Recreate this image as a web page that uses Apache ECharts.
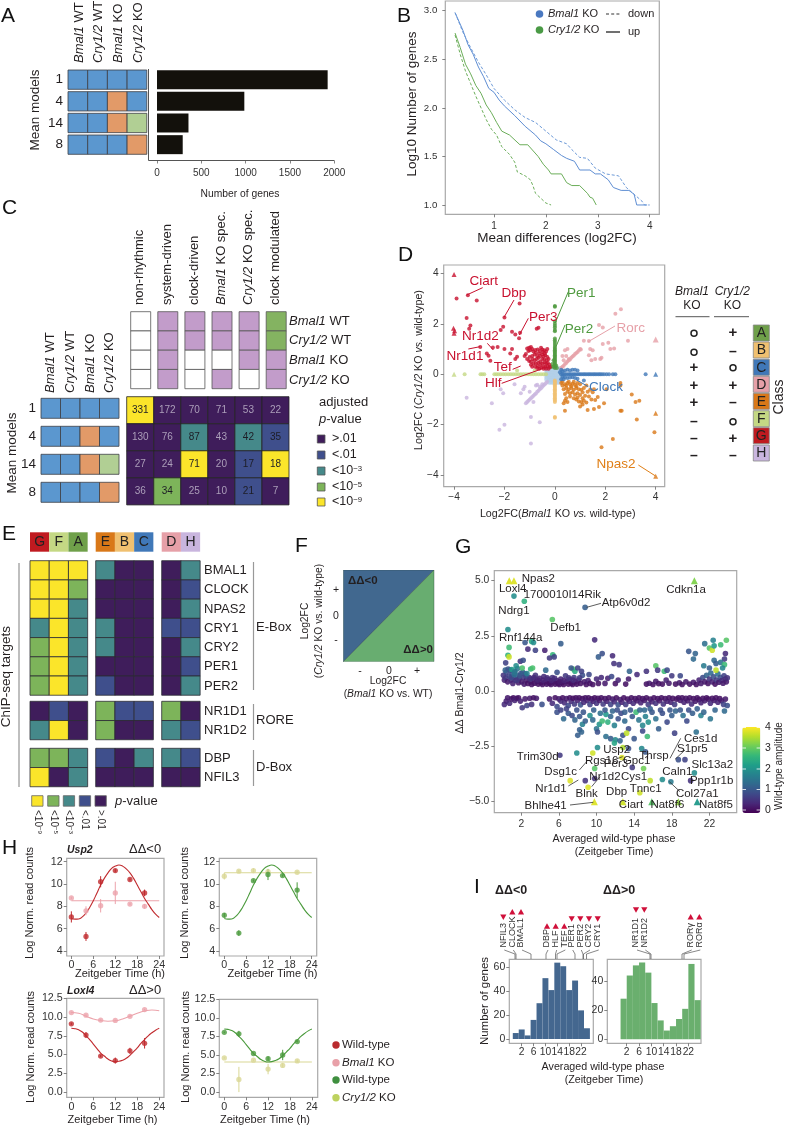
<!DOCTYPE html>
<html><head><meta charset="utf-8">
<script src="https://cdn.jsdelivr.net/npm/echarts@6/dist/echarts.min.js"></script>
<style>html,body{margin:0;padding:0;background:#fff}#c{width:789px;height:1127px}</style></head>
<body><div id="c"></div>
<script>
// ---------- DATA ----------
const modelRows=['1','4','14','8'];
const genotypeHead=['{i|Bmal1} WT','{i|Cry1/2} WT','{i|Bmal1} KO','{i|Cry1/2} KO'];
const modelCells=[[0,0,0,0],[0,0,1,0],[0,0,1,2],[0,0,0,1]];
const modelGeneCounts=[1925,985,355,290];
const bMeanDiff=[.25,.4,.5,.6,.7,.8,.9,1,1.1,1.2,1.4,1.6,1.8,1.9,2,2.15,2.3,2.4,2.55,2.65,2.85,2.95,3.05,3.2,3.3,3.45,3.6,3.7,3.75,3.95];
const bBmalUp=[2.98,2.8,2.65,2.55,2.42,2.32,2.2,2.16,2.08,2.02,1.92,1.81,1.72,1.66,1.63,1.57,1.51,1.48,1.45,1.36,1.36,1.32,1.32,1.26,1.18,1.15,1.15,1.11,1,1];
const bBmalDown=[[.25,2.98],[.4,2.78],[.55,2.62],[.7,2.47],[.85,2.34],[1,2.2],[1.2,2.08],[1.4,1.98],[1.6,1.9],[1.8,1.85],[2,1.76],[2.2,1.67],[2.4,1.63],[2.5,1.57],[2.65,1.49],[2.8,1.48],[2.95,1.38],[3.15,1.32],[3.4,1.3],[3.55,1.18],[3.7,1.11],[3.85,1.04],[3.9,1],[4,1]];
const bCryUp=[[.25,2.77],[.35,2.62],[.45,2.45],[.55,2.35],[.65,2.23],[.75,2.15],[.85,2.03],[.95,1.95],[1.05,1.85],[1.15,1.76],[1.3,1.72],[1.5,1.62],[1.65,1.62],[1.85,1.5],[1.95,1.42],[2.05,1.36],[2.1,1.32],[2.3,1.32],[2.4,1.23],[2.5,1.2],[2.65,1.2],[2.8,1.12],[2.85,1.08],[2.9,1.07],[2.97,1]];
const bCryDown=[[.25,2.75],[.35,2.55],[.45,2.38],[.55,2.25],[.65,2.12],[.75,2],[.85,1.88],[.95,1.78],[1.05,1.72],[1.15,1.6],[1.3,1.52],[1.4,1.44],[1.45,1.34],[1.6,1.3],[1.7,1.26],[1.75,1.2],[1.8,1.12],[1.9,1.07],[2,1.02],[2.1,1]];
const cClassHead=['non-rhythmic','system-driven','clock-driven','{i|Bmal1} KO spec.','{i|Cry1/2} KO spec.','clock modulated'];
const cClassCells=[[0,1,1,1,1,2],[0,1,1,1,1,2],[0,1,0,0,1,1],[0,1,0,1,0,1]];
const cCounts=[[331,172,70,71,53,22],[130,76,87,43,42,35],[27,24,71,20,17,18],[36,34,25,10,21,7]];
const cSignif=[[4,0,0,0,0,0],[0,0,2,0,2,1],[0,0,4,0,1,4],[0,3,0,0,1,0]];
const pLegendC=['>.01','<.01','<10{sup|−3}','<10{sup|−5}','<10{sup|−9}'];
const dNone=[[-.3,.2],[-.2,.2],[-.1,.2],[0,.2],[.1,.2],[.2,.2],[-.3,.1],[-.2,.1],[-.1,.1],[0,.1],[.1,.1],[.2,.1],[.3,.1],[-.3,0],[-.2,0],[-.1,0],[0,0],[.1,0],[.2,0],[.3,0],[-.3,-.1],[-.2,-.1],[-.1,-.1],[0,-.1],[.1,-.1],[.2,-.1],[.3,-.1],[-.3,-.2],[-.2,-.2],[-.1,-.2],[0,-.2],[.1,-.2],[.2,-.2],[-.2,-.3],[-.1,-.3],[0,-.3],[.1,-.3],[.2,-.3]];
const dG=[[-3.9,3],[-3.45,3.13],[-3.1,2.92],[-3.5,2.23],[-3.35,1.93],[-3.4,1.8],[-2,2.25],[-1.4,2.8],[-2.05,1.88],[-2.15,1.75],[-1.7,1.68],[-1.57,1.57],[-1.38,1.64],[-1.42,1.43],[-.72,1.8],[-.65,1.84],[-2.96,1.08],[-2.7,.82],[-2.63,.73],[-2.56,.53],[-2.46,1.06],[-2.27,1.08],[-2,1],[-1.7,1],[-1.77,.82],[-1.5,.69],[-1.57,.6],[-1.1,1.02],[-1.02,1.05],[-.95,1.08],[-.9,1],[-1.05,.92],[-.98,.95],[-.85,.9],[-.55,1.05],[-.5,.98],[-.42,.95],[-.35,.9],[-.3,1],[-.62,.82],[-.75,.85],[-.8,.78],[-.7,.72],[-.9,.72],[-1,.68],[-1.1,.6],[-1.02,.52],[-.95,.5],[-.88,.6],[-.8,.55],[-.72,.6],[-.65,.65],[-.58,.72],[-.5,.78],[-.45,.7],[-.38,.75],[-.3,.68],[-.25,.6],[-.33,.55],[-.42,.58],[-.5,.6],[-.58,.5],[-.66,.45],[-.75,.42],[-.85,.42],[-.95,.38],[-.9,.3],[-.78,.3],[-.68,.33],[-.58,.38],[-.5,.42],[-.42,.45],[-.35,.42],[-.28,.45],[-.22,.38],[-.3,.33],[-.38,.3],[-.46,.3],[-.55,.27],[-.62,.22],[-.7,.25],[-.2,.28],[-.25,.22],[-.35,.22],[-.45,.22],[-1.15,.8],[-1.2,.72],[-.6,.92],[-.68,.98],[-.78,.96],[-.48,.88],[-.4,.82]];
const dGTri=[[-4,3.95],[-4.02,1.82],[-3.98,1.72],[-4,1.62]];
const dA=[[0,2.7],[0,2.67],[0,2.1],[0,2],[0,1.92],[0,1.85],[0,1.75],[0,1.7],[0,1.42],[0,1.35],[0,1.28],[0,1.2],[0,1.12],[0,1.05],[0,1],[0,.95],[0,.9],[0,.85],[0,.8],[0,.75],[0,.7],[0,.65],[0,.6],[0,.55],[0,.5],[0,.45],[0,.4],[0,.35],[0,.3],[0,.25],[-.05,.55],[-.1,.4],[-.15,.3],[.08,.25],[-.08,.3],[.05,.35]];
const dD=[[.25,.25],[.3,.3],[.35,.34],[.4,.4],[.45,.44],[.5,.5],[.55,.55],[.6,.58],[.65,.65],[.7,.7],[.75,.74],[.8,.8],[.85,.84],[.9,.88],[.95,.94],[1,1],[1.03,.98],[2.62,2.58],[2.4,2.4],[1.75,1.95],[1.9,1.85],[1.15,1.33],[1.35,1.32],[1.9,1.2],[2.12,1.25],[2.9,1.33],[.4,.95],[.5,1],[.35,.55],[.55,.6],[1.4,1],[1.5,.95],[1.35,.75],[1.6,.6],[1.8,.6],[1.85,.65],[2.2,1],[2.35,1.02],[1.45,.55],[.3,.72],[.45,.72]];
const dDTri=[[4,1.38]];
const dC=[[.25,0],[.32,0],[.4,0],[.47,0],[.54,0],[.6,0],[.67,0],[.74,0],[.8,0],[.87,0],[.94,0],[1,0],[1.07,0],[1.14,0],[1.2,0],[1.27,0],[1.34,0],[1.4,0],[1.47,0],[1.54,0],[1.6,0],[1.67,0],[1.74,0],[1.8,0],[1.87,0],[1.95,0],[2.05,0],[2.15,0],[2.3,0],[2.4,0],[3.6,0],[.25,.18],[.3,.12],[.4,.15],[.5,.18],[.6,.15],[.7,.18],[.8,.18],[.9,.15],[.3,-.1],[.4,-.12],[.5,-.15],[.6,-.13],[.25,-.2],[.35,-.2],[.7,-.12],[.8,-.15],[1.15,-.25],[.9,-.18],[.2,.08]];
const dCTri=[[4,0]];
const dE=[[.25,-.35],[.3,-.45],[.4,-.4],[.5,-.35],[.6,-.4],[.7,-.38],[.8,-.42],[.9,-.35],[1,-.4],[.35,-.6],[.45,-.55],[.55,-.6],[.65,-.55],[.75,-.62],[.85,-.55],[.95,-.6],[1.05,-.62],[1.15,-.55],[.6,-.75],[.7,-.72],[.8,-.8],[.9,-.75],[1,-.82],[1.1,-.72],[1.2,-.85],[1.3,-.7],[1.4,-.62],[.4,-1.05],[.35,-1.15],[.45,-.95],[.85,-1],[.95,-1.08],[1.05,-1.1],[1.1,-1.2],[1.15,-1.05],[1.25,-1.12],[.4,-1.45],[1.3,-1.42],[1.55,-1.38],[1.75,-1.3],[1.95,-1.15],[2.05,-.6],[2.6,-.35],[3.05,-.8],[3.2,-1.1],[3.35,-1.05],[2.6,-1.45],[2.65,-1.45],[3.25,-1.8],[3.95,-2.3],[2.3,-2.57],[1.85,-2.9],[1.55,-.6],[1.7,-.9],[1.45,-1],[.3,-.3],[.55,-.3],[.75,-.3],[.45,-.45],[.65,-.48],[.85,-.48],[.5,-.7],[.4,-.78],[.6,-.88],[.75,-.95],[.9,-.92],[1.25,-.45],[1.1,-.95],[1.35,-.88],[.5,-1.1],[1,-1.28],[1.5,-.72],[1.6,-1.02],[2.6,-.45]];
const dETri=[[4,-1.55],[4,-4.05]];
const dB=[[0,-.25],[0,-.3],[0,-.35],[0,-.4],[0,-.45],[0,-.5],[0,-.55],[0,-.6],[0,-.65],[0,-.7],[0,-.75],[0,-.8],[0,-.85],[0,-.9],[0,-.95],[0,-1],[0,-1.05],[0,-1.1],[0,-1.7],[0,-1.73]];
const dF=[[-3.58,0],[-2.95,0],[-2.88,0],[-2.8,0],[-2.4,0],[-2.32,0],[-2.24,0],[-2.15,0],[-2.05,0],[-1.95,0],[-1.85,0],[-1.75,0],[-1.65,0],[-1.55,0],[-1.45,0],[-1.35,0],[-1.25,0],[-1.15,0],[-1.05,0],[-.95,0],[-.85,0],[-.75,0],[-.65,0],[-.55,0],[-.45,0],[-.35,0],[-1.5,.15],[-.8,.15]];
const dFTri=[[-4,0]];
const dH=[[-.3,-.3],[-.35,-.35],[-.4,-.4],[-.45,-.45],[-.5,-.5],[-.55,-.56],[-.6,-.6],[-.65,-.66],[-.7,-.7],[-.75,-.76],[-.8,-.8],[-.85,-.85],[-.9,-.9],[-.95,-.95],[-1,-1],[-1.05,-1.05],[-1.1,-1.1],[-1.15,-1.15],[-3.5,-.93],[-2.5,-1.15],[-2.15,-.6],[-2.05,-.75],[-2.2,-2.2],[-2,-2],[-.95,-2.75],[-.95,-1.7],[-.6,-1.9],[-1.6,-.4],[-1.35,-.75],[-1.25,-.6],[-1.2,-.5],[-.75,-.45],[-.7,-.42],[-.6,-.5],[-.5,-.4],[-.85,-1.1],[-1,-.7]];
const classLetters=['A','B','C','D','E','F','G','H'];
const classBmal=['o','o','+','+','+','–','–','–'];
const classCry=['+','–','o','+','–','o','+','–'];
const eTargets=['BMAL1','CLOCK','NPAS2','CRY1','CRY2','PER1','PER2'];
const eEbox1=[[4,4,4],[4,4,3],[4,4,2],[2,4,2],[3,4,2],[3,4,2],[3,4,2]];
const eEbox2=[[2,0,0],[0,0,0],[0,0,0],[2,0,0],[2,0,0],[0,0,0],[1,0,0]];
const eEbox3=[[0,2],[0,1],[0,2],[1,1],[0,2],[0,1],[0,2]];
const eRore=['NR1D1','NR1D2'];
const eRore1=[[0,1,0],[2,4,0]];const eRore2=[[3,1,1],[3,0,0]];const eRore3=[[3,0],[2,1]];
const eDbox=['DBP','NFIL3'];
const eDbox1=[[3,3,2],[4,0,2]];const eDbox2=[[1,0,2],[0,0,0]];const eDbox3=[[2,1],[0,0]];
const fBlueTri=[[-1,-1],[-1,1],[1,1]];const fGreenTri=[[-1,-1],[1,-1],[1,1]];
// phase, delta, amplitude
const gUpBand=[[.1,.72,.6],[.2,.5,.4],[.35,.6,.7],[.4,.85,.9],[.55,.42,.3],[.7,.68,.8],[.8,.95,1.1],[.9,.5,.5],[1,.78,1],[1.1,.35,.4],[1.2,.62,.7],[1.3,.9,1.2],[1.4,.48,.6],[1.5,.72,1.4],[1.6,1.02,1.6],[1.7,.38,.3],[1.8,.58,.5],[1.95,.8,1],[2.05,.42,.3],[2.2,.62,.6],[2.3,.32,.3],[2.4,.78,.9],[2.55,.5,.3],[2.7,.35,.2],[2.85,.62,.5],[3,.42,.3],[3.1,.3,.2],[3.25,.55,.4],[3.4,.36,.2],[3.5,.72,.6],[3.65,.44,.3],[3.8,.32,.2],[3.95,.58,.4],[4.1,.38,.2],[4.25,.3,.2],[4.4,.66,.5],[4.55,.42,.3],[4.7,.32,.2],[4.85,.52,.4],[5,.36,.2],[5.15,.3,.2],[5.3,.62,.6],[5.45,.42,.3],[5.6,.32,.2],[5.75,.48,.3],[5.9,.35,.2],[6.05,.3,.2],[6.2,.55,.4],[6.35,.38,.2],[6.5,.3,.2],[6.7,.7,.7],[6.85,.45,.3],[7,.32,.2],[7.15,.52,.5],[7.3,.36,.2],[7.45,.3,.2],[7.6,.62,.7],[7.75,.42,.3],[7.9,.32,.2],[8.1,.5,.4],[8.3,.35,.2],[8.5,.72,1],[8.7,.42,.3],[8.9,.3,.2],[9.1,.48,.4],[9.3,.35,.2],[9.6,.3,.2],[10,.55,.5],[10.2,.35,.2],[10.5,.62,.5],[10.9,.35,.3],[11.2,.58,.4],[11.6,.66,.9],[12,.34,.2],[12.3,.5,.4],[13.1,.32,.2],[13.4,.55,.3],[15.3,.32,.2],[15.6,.36,.3],[16,.3,.2],[16.3,.45,.3],[16.6,.34,.2],[17,.32,.2],[17.4,.5,.4],[17.7,.36,.3],[18,.7,.7],[18.4,.32,.2],[18.8,.38,.3],[19.1,.3,.2],[19.5,.42,.3],[19.9,.32,.2],[20.3,.4,.3],[20.6,.3,.2],[20.9,.5,.4],[21.1,.35,.3],[21.3,.62,.9],[21.5,.42,.3],[21.7,.72,1.3],[21.85,.35,.2],[22,.55,.6],[22.15,.82,1.4],[22.3,.42,.4],[22.45,.65,1],[22.6,.32,.2],[22.75,.5,.7],[22.9,.78,1.5],[23,.4,.3],[23.15,.62,1],[23.3,.48,.5],[23.45,.36,.3],[23.55,.7,.8],[23.7,.55,.5],[23.8,.42,.3],[23.9,.6,.6],[.3,.95,1.3],[.6,1,1.1],[.95,.62,.9],[1.25,.75,1.5],[1.55,.5,.7],[1.85,.7,1.1],[2.15,.85,1.2],[2.5,.68,.9],[2.95,.55,.6],[3.35,.62,.5],[3.75,.5,.4],[4.3,.5,.4],[4.75,.6,.5],[5.2,.48,.4],[5.55,.58,.5],[6.1,.42,.3],[6.55,.48,.4],[7.05,.6,.6],[7.5,.5,.5],[8.2,.6,.7]];
const gUpOut=[[.34,1.28,.8],[.58,1.62,2.6],[.7,1.55,3.8],[.7,1.98,2.8],[.58,2.79,2],[1.22,4.3,2],[2.32,4.07,2.6],[8.78,3.79,1.2],[5.3,3.24,3],[9.8,2.32,.5],[3.1,2.25,2.5],[3.3,2.2,2],[2.4,2.2,1.1],[2.7,1.9,.5],[3.5,1.85,.8],[4.5,1.85,.4],[6.2,2.15,1.2],[5.35,1.65,2.7],[5,1.5,.7],[5.5,1.55,.8],[1.9,1.35,.6],[2.2,1.4,1],[1.45,1.15,2],[3,1,2.7],[3.2,1.05,2.9],[4.6,.95,1.4],[5.8,.85,1],[7.5,1,3],[7.7,.9,2.5],[7.3,1.05,1.1],[8,1.05,.8],[8.4,.9,.8],[9.2,.75,.9],[10.2,1.55,1.2],[10.6,1.7,1],[11.7,1.6,.5],[11.85,1.25,.6],[12.4,1.2,.7],[13.5,.9,1.3],[14.3,.75,.5],[15.3,.9,.6],[16.3,1.15,3],[16.5,.95,.7],[17.2,.9,2.8],[17.5,.95,.9],[18.9,.7,.9],[19.8,1.8,1.1],[20.5,1.7,1.3],[20.3,1.45,1.4],[21.4,1.15,1.7],[21.5,2.15,1.5],[22,1.95,3],[22.3,1.85,3.8],[22.4,2.3,1.8],[22.5,2.05,2.2],[23.2,2.1,2.8],[23.8,2.3,3],[23.7,1.7,.5],[23.6,1.45,.7],[22.5,1.4,1.4],[22.7,1.25,1.2],[23.2,1.3,1.5],[23.6,1.2,2.8],[23.4,1.05,1.9],[22.7,.95,3.7],[22,1.05,1.2],[1,.98,2.2],[1.3,.85,1.6],[2.1,1.05,2.9],[2.6,.8,1.8]];
const gLowBand=[[.2,-.6,.5],[.4,-.45,.4],[.55,-.3,.3],[.75,-.55,.5],[.95,-.35,.3],[1.15,-.3,.2],[1.3,-.42,.4],[1.5,-.32,.3],[1.7,-.3,.2],[1.9,-.45,.4],[2.1,-.75,.7],[2.4,-.35,.3],[2.6,-.65,.8],[2.9,-.32,.3],[3.1,-.6,.6],[3.3,-.3,.2],[3.6,-.32,.3],[4.2,-.6,1],[5,-.35,.3],[5.3,-.55,.5],[5.6,-.3,.2],[5.8,-.7,.9],[6,-.35,.3],[6.2,-.45,.5],[6.4,-.3,.2],[6.6,-.52,.5],[6.8,-.34,.3],[7,-.65,.9],[7.15,-.3,.2],[7.3,-.46,.5],[7.5,-.32,.2],[7.65,-.58,.7],[7.8,-.3,.2],[8,-.42,.4],[8.15,-.3,.2],[8.3,-.62,1],[8.5,-.34,.2],[8.65,-.5,.5],[8.8,-.3,.2],[9,-.42,.4],[9.15,-.3,.2],[9.3,-.6,.8],[9.5,-.35,.2],[9.65,-.46,.4],[9.8,-.3,.2],[10,-.55,.6],[10.15,-.32,.2],[10.3,-.42,.3],[10.5,-.3,.2],[10.7,-.58,.7],[10.9,-.34,.2],[11.1,-.46,.4],[11.3,-.3,.2],[11.5,-.6,.8],[11.7,-.36,.3],[11.9,-.48,.5],[12.1,-.3,.2],[12.3,-.62,1],[12.5,-.38,.3],[12.7,-.5,.4],[12.9,-.3,.2],[13.1,-.6,.7],[13.3,-.36,.2],[13.5,-.46,.4],[13.7,-.3,.2],[13.9,-.55,.5],[14.1,-.34,.2],[14.3,-.44,.3],[14.5,-.3,.2],[14.7,-.52,.4],[14.9,-.34,.2],[15.1,-.42,.3],[15.3,-.3,.2],[15.5,-.6,.7],[15.7,-.36,.2],[15.9,-.48,.4],[16.1,-.3,.2],[16.3,-.55,.6],[16.5,-.34,.2],[16.7,-.44,.3],[16.9,-.3,.2],[17.1,-.58,.6],[17.3,-.34,.2],[17.5,-.46,.4],[17.7,-.3,.2],[17.9,-.5,.4],[18.1,-.32,.2],[18.3,-.6,.7],[18.5,-.36,.2],[18.7,-.3,.2],[18.9,-.42,.3],[19.1,-.3,.2],[19.3,-.5,.4],[19.5,-.32,.2],[19.7,-.44,.3],[19.9,-.3,.2],[20.1,-.58,.5],[20.3,-.34,.2],[20.5,-.46,.3],[20.7,-.3,.2],[20.9,-.38,.2],[21.1,-.52,.4],[21.3,-.32,.2],[21.5,-.44,.3],[21.7,-.3,.2],[21.9,-.36,.2],[22.1,-.55,.5],[22.3,-.32,.2],[22.5,-.42,.3],[22.7,-.3,.2],[22.9,-.5,.4],[23.1,-.34,.2],[23.3,-.44,.3],[23.5,-.6,.8],[23.7,-.36,.3],[23.9,-.65,1]];
const gLowOut=[[5.8,-.95,1],[6.2,-.85,.8],[6.5,-1.25,1.4],[7,-1,1.1],[7.4,-1.1,.9],[7.7,-1.3,1.3],[8.2,-1.15,1.1],[8.5,-1.5,1.8],[8.8,-1.35,1.2],[9.3,-1.1,2],[9.6,-1.3,1.4],[10,-1.7,1.6],[10.3,-1.5,2.1],[10.6,-1.35,2.8],[11,-1.05,2.2],[11.2,-1.4,2.6],[11.5,-1.15,1.3],[11.9,-1.55,1.8],[12.3,-1.25,1],[12.6,-1,.9],[13,-1.35,1.4],[13.4,-1.7,.9],[13.8,-1.15,1.1],[14.2,-.95,2.8],[14.5,-1.3,1.6],[14.9,-1.55,1.9],[15.2,-1.15,1.8],[15.5,-1.4,2.1],[15.9,-.95,1.1],[16.3,-1.25,1.5],[16.6,-1.7,1.2],[17,-1,1],[17.5,-1.4,.9],[18,-1.1,1.2],[18.4,-.9,1.3],[19.2,-1.1,1.5],[19.6,-1.35,.9],[20.2,-1,1.2],[21.1,-1.1,1.8],[21.4,-.95,1.3],[22.1,-1.25,1.6],[8.2,-1.75,1.2],[8.4,-1.85,1.3],[8,-2,1.2],[10.1,-1.85,1],[11,-2.05,1.5],[11.5,-2.15,1.2],[12,-2.2,1.9],[12.5,-2.25,1.3],[12.8,-2,1],[13.2,-1.9,3.7],[14,-2.15,1.1],[14.9,-1.8,.9],[15.4,-2.05,2.8],[18.3,-1.9,.8],[20.6,-1.85,1.5],[11.9,-2.35,2.4],[12.8,-2.55,3.6],[13.4,-2.6,1],[14.8,-2.6,1.9],[7.9,-2.8,2],[9.6,-2.8,3.8],[10.1,-2.55,2],[6.1,-2.9,.7],[12.7,-3,3.9],[15.2,-2.75,1.1],[18.7,-3.1,1],[19.4,-3.1,.8],[9.8,-3.5,3],[15,-3.5,3.2],[20.4,-3.7,2],[13.8,-3.45,.7],[8.8,-4.05,.6],[7.2,-4.05,3.9],[9.1,-4.35,3.9],[15.7,-4.05,3.7],[17,-4,2],[17.9,-4.1,1.7],[20,-4.05,.6],[14.6,-4.6,3.8],[9.8,-3.95,.6],[6.8,-.8,.8],[7.9,-.85,1],[8.6,-.95,1.1],[9.7,-.85,1.2],[10.4,-1,1.5],[10.9,-.85,1.1],[11.7,-.9,1.3],[12.2,-.85,1],[13,-.95,1.2],[13.6,-.85,1.1],[14.6,-.85,1.3],[15.1,-.85,1.4],[15.7,-.8,1.2],[16.8,-.85,1],[17.8,-.85,1.1],[18.9,-.85,1.1],[19.8,-.85,1],[20.7,-.8,1.2],[22.6,-.85,1.3],[23.6,-.9,1.4]];
const gTriangles=[[.72,5,3.9],[1.22,5,3.9],[20.4,5,3.3],[9.77,-5,3.9],[12.8,-5,3.8],[15.87,-5,3],[18.7,-5,3.4],[20.7,-5,2.2]];
const gTickValues=[2,6,10,14,18,22];
const hFitA=[[0,6.9],[1,6.85],[2,6.87],[3,7.05],[4,7.4],[5,7.9],[6,8.5],[7,9.2],[8,9.9],[9,10.5],[10,11],[11,11.4],[12,11.6],[13,11.7],[14,11.6],[15,11.35],[16,11],[17,10.5],[18,9.9],[19,9.3],[20,8.7],[21,8.2],[22,7.7],[23,7.3],[24,7]];
const hUsp2Wt=[[0,7.05,.5],[4,5.3,.4],[8,10.2,.5],[12,11.2,.15],[16,10.4,.1],[20,9.2,.3]];
const hUsp2Bko=[[0,8.75,.1],[4,7.6,.4],[8,8.05,.6],[12,9.2,1],[16,8.2,.1],[20,8,.2]];
const hUsp2Flat=[[0,8.5],[24,8.5]];
const hUsp2Wt2=[[0,7.2,.2],[4,5.6,.25],[8,10.3,.1],[12,10.85,.5],[16,10.75,.1],[20,9.45,.7]];
const hUsp2Cko=[[0,10.7,.3],[4,11.15,.1],[8,11.2,.2],[12,11.1,.2],[20,11.05,.1]];
const hUsp2CFlat=[[0,11],[24,11]];
const hFitL=[[0,8.5],[1,8.45],[2,8.3],[3,8],[4,7.5],[5,7],[6,6.4],[7,5.8],[8,5.2],[9,4.8],[10,4.4],[11,4.15],[12,4.05],[13,4.1],[14,4.25],[15,4.5],[16,4.9],[17,5.4],[18,5.9],[19,6.5],[20,7],[21,7.5],[22,7.9],[23,8.25],[24,8.5]];
const hFitLB=[[0,10.6],[2,10.5],[4,10.1],[6,9.75],[8,9.55],[10,9.45],[12,9.5],[14,9.75],[16,10.1],[18,10.5],[20,10.8],[22,10.95],[24,10.85]];
const hLoxWt=[[0,9.1,.15],[4,7.6,.4],[8,4.8,.15],[12,4.2,.4],[16,5.5,.4],[20,6.5,.7]];
const hLoxBko=[[0,10.6,.1],[4,10.25,.1],[8,9.6,.1],[12,9.55,.1],[16,10.1,.1],[20,11,.1]];
const hLoxWt2=[[0,8.05,.1],[4,7.85,.4],[8,5.2,.1],[12,4.5,.3],[16,5,.7],[20,6.8,.1]];
const hLoxCko=[[0,4.6,.1],[4,1.7,1.7],[8,4.3,.1],[12,3.1,.7],[16,3.6,.3],[20,4.2,.2]];
const hLoxFlat=[[0,4.05],[24,4.05]];
const iNegBins=[[0,5],[2,8],[4,3],[6,16],[8,30],[10,51],[12,41],[14,64],[16,61],[18,41],[20,49],[22,24],[24,9]];
const iPosBins=[[1,28],[3,44],[5,51],[7,53],[9,46],[11,25],[13,13],[15,6],[17,9],[19,14],[21,21],[23,52],[25,27]];
const iNegGenes=['NFIL3','CLOCK','BMAL1','DBP','HLF','TEF','PER1','PER2','CRY2','CRY1'];
const iNegDir=[0,1,1,1,1,1,0,0,0,0];
const iPosGenes=['NR1D1','NR1D2','RORγ','RORα'];
const iPosDir=[0,0,1,1];

// ---------- HELPERS ----------
const F="'Liberation Sans',Arial,sans-serif",INK='#231f20',FRAME='#a9a9a9',AX='#666';
const viridis=['#440154','#482878','#3e4a89','#31688e','#26828e','#1f9e89','#35b779','#6ece58','#b5de2b','#fde725'];
const pVal=['#3f1d5b','#3f4f8c','#45898a','#7db45a','#fbe52a'];
const modelPal=['#5b97cf','#e29a68','#b1cf94'];
const classCol={A:'#6fa04a',B:'#f0c070',C:'#4078b8',D:'#e6a0a8',E:'#d97818',F:'#c4d884',G:'#c01a20',H:'#c9b5de'};
const g=[],grids=[],xA=[],yA=[],series=[];
function T(x,y,text,o={}){const s=o.size||11,c=o.color||INK;
 g.push({type:'text',z:50,silent:true,x,y,rotation:o.rot||0,style:{text:String(text),fill:c,fontSize:s,fontFamily:F,fontStyle:o.italic?'italic':'normal',fontWeight:o.bold?'bold':'normal',align:o.align||'left',verticalAlign:o.va||'middle',
 rich:{i:{fontSize:s,fontFamily:F,fontStyle:'italic',fontWeight:o.bold?'bold':'normal',fill:c},sup:{fontSize:s*.62,fontFamily:F,fill:c,verticalAlign:'top',lineHeight:s}}}});}
function L(pts,c,w,dash){g.push({type:'polyline',z:40,silent:true,shape:{points:pts},style:{stroke:c||AX,lineWidth:w||1,fill:null,lineDash:dash||null}});}
function R(x,y,w,h,fill,stroke){g.push({type:'rect',z:40,silent:true,shape:{x,y,width:w,height:h},style:{fill,stroke:stroke||null,lineWidth:stroke?.8:0}});}
function C(x,y,r,fill,stroke){g.push({type:'circle',z:40,silent:true,shape:{cx:x,cy:y,r},style:{fill:fill||null,stroke:stroke||null,lineWidth:stroke?1.5:0}});}
function Tri(x,y,up,c){const w=3.1,h=2.8;g.push({type:'polygon',z:40,silent:true,shape:{points:up?[[x-w,y+h],[x+w,y+h],[x,y-h]]:[[x-w,y-h],[x+w,y-h],[x,y+h]]},style:{fill:c}});}
function axisV(min,max,ticks,o={}){return {type:'value',min,max,scale:true,silent:true,splitLine:{show:false},axisLine:{show:false,onZero:false},
 axisTick:{show:true,length:o.tl||3,lineStyle:{color:AX,width:.8},customValues:ticks},
 axisLabel:{show:o.labels!==false,hideOverlap:false,customValues:ticks,fontSize:o.size||10,color:o.color||'#333',fontFamily:F,margin:o.margin||5,formatter:o.fmt||(v=>String(v).replace('-','−'))}};}
function addGrid(l,t,r,b,xAx,yAx,frame){const i=grids.length;grids.push({left:l,top:t,width:r-l,height:b-t,show:!!frame,borderColor:FRAME,borderWidth:frame?1.2:0,backgroundColor:'transparent'});
 xAx.gridIndex=i;yAx.gridIndex=i;xA.push(xAx);yA.push(yAx);return i;}
function hidden(min,max,inv){return {type:'value',min,max,show:false,inverse:!!inv};}
function matrix(x,y,pitchX,pitchY,w,h,cells,pal,o={}){const nr=cells.length,nc=cells[0].length;
 const i=addGrid(x-(pitchX-w)/2,y-(pitchY-h)/2,x-(pitchX-w)/2+pitchX*nc,y-(pitchY-h)/2+pitchY*nr,hidden(-.5,nc-.5),hidden(-.5,nr-.5,true));
 const data=[];cells.forEach((row,r)=>row.forEach((v,c)=>data.push([c,r,v,o.labels?o.labels[r][c]:''])));
 series.push({type:'custom',xAxisIndex:i,yAxisIndex:i,silent:true,animation:false,data,z:3,encode:{x:0,y:1},
  renderItem(p,api){const pt=api.coord([api.value(0),api.value(1)]),v=api.value(2);
   const kids=[{type:'rect',shape:{x:pt[0]-w/2,y:pt[1]-h/2,width:w,height:h},style:{fill:pal[v],stroke:o.stroke||'#3d3f45',lineWidth:o.lw||.8}}];
   if(o.labels){kids.push({type:'text',style:{x:pt[0],y:pt[1],text:String(api.value(3)),align:'center',verticalAlign:'middle',fontSize:10,fontFamily:F,fill:v===0?'#ac9fba':'#1d1d25'}});}
   return {type:'group',children:kids};}});
 return i;}
function scatter(i,data,color,size,sym,extra){series.push(Object.assign({type:'scatter',xAxisIndex:i,yAxisIndex:i,data,symbol:sym||'circle',symbolSize:size,itemStyle:{color},silent:true,animation:false,z:3},extra||{}));}
function line(i,data,color,w,dash,smooth){series.push({type:'line',xAxisIndex:i,yAxisIndex:i,data,showSymbol:false,symbol:'none',smooth:!!smooth,lineStyle:{color,width:w||1,type:dash||'solid'},silent:true,animation:false,z:2});}
function errbars(i,data,color){series.push({type:'custom',xAxisIndex:i,yAxisIndex:i,silent:true,animation:false,z:3,data:data.map(d=>[d[0],d[1]-d[2],d[1]+d[2]]),encode:{x:0,y:[1,2]},
 renderItem(p,api){const a=api.coord([api.value(0),api.value(1)]),b=api.coord([api.value(0),api.value(2)]);return {type:'line',shape:{x1:a[0],y1:a[1],x2:b[0],y2:b[1]},style:{stroke:color,lineWidth:1}};}});}
function hist(i,data,color){series.push({type:'custom',xAxisIndex:i,yAxisIndex:i,silent:true,animation:false,z:3,data,encode:{x:0,y:1},
 renderItem(p,api){const a=api.coord([api.value(0)-1,api.value(1)]),b=api.coord([api.value(0)+1,0]);return {type:'rect',shape:{x:a[0],y:a[1],width:b[0]-a[0],height:b[1]-a[1]},style:{fill:color}};}});}

// ---------- PANEL LETTERS ----------
[['A',1,16],['B',397,16],['C',2,208],['D',398,255],['E',2,534],['F',295,546],['G',455,547],['H',2,848],['I',474,887]].forEach(a=>T(a[1],a[2],a[0],{size:21,color:'#111'}));

// ---------- A ----------
matrix(68,70,19.7,21.67,19.7,19.3,modelCells,modelPal);
[79,98.5,118,138].forEach((x,k)=>T(x,63,genotypeHead[k],{rot:Math.PI/2,size:13}));
[79.7,101.3,123,144.7].forEach((y,k)=>T(63,y,modelRows[k],{align:'right',size:13.5}));
T(35,110,'Mean models',{rot:Math.PI/2,align:'center',size:13.5});
{const xx=axisV(-96,2000,[0,500,1000,1500,2000],{size:10,margin:8});xx.offset=5;
 const yy={type:'category',data:modelRows,inverse:true,show:false};
 const i=addGrid(148.5,68.8,334.3,155.5,xx,yy);
 series.push({type:'bar',xAxisIndex:i,yAxisIndex:i,data:modelGeneCounts,barWidth:19,itemStyle:{color:'#13110c'},silent:true,animation:false});
 L([[148.5,69],[148.5,160.5],[334.3,160.5]],'#555',1);
 T(240,194,'Number of genes',{align:'center',size:10.3});}

// ---------- B ----------
{const i=addGrid(445.3,1,659.3,214.3,axisV(.062,4.185,[1,2,3,4],{size:10,margin:7}),axisV(.904,3.1,[1,1.5,2,2.5,3],{size:9.7,margin:8,fmt:v=>v.toFixed(1)}),true);
 const blue='#5f8ed3',gr='#6cae5a';
 line(i,bMeanDiff.map((x,k)=>[x,bBmalUp[k]]),blue,1);line(i,bBmalDown,'#6d9ad8',1,[3,2]);line(i,bCryUp,gr,1);line(i,bCryDown,gr,1,[3,2]);
 C(539.5,14,3.8,'#4a78c0');C(539.5,30,3.8,'#4a9a45');
 T(548,14,'{i|Bmal1} KO',{size:11});T(548,30,'{i|Cry1/2} KO',{size:11});
 L([[606,14],[620,14]],'#333',1.2,[3,2.2]);L([[606,32],[620,32]],'#333',1.4);T(628,14,'down',{size:11});T(628,32,'up',{size:11});
 T(412,104,'Log10 Number of genes',{rot:Math.PI/2,align:'center',size:13.5});
 T(557,238,'Mean differences (log2FC)',{align:'center',size:13.5});}

// ---------- C ----------
matrix(130.7,311.7,27.1,19.25,20,19.25,cClassCells,['#ffffff','#c29cca','#84b361'],{stroke:'#555'});
[139,167,194,221,248.5,275.5].forEach((x,k)=>T(x,305,cClassHead[k],{rot:Math.PI/2,size:13}));
[321,340,360.5,380].forEach((y,k)=>T(289,y,genotypeHead[k],{size:13}));
matrix(41,398.3,19.5,28,19.5,20,modelCells,modelPal);
[50.5,70,90,109].forEach((x,k)=>T(x,393,genotypeHead[k],{rot:Math.PI/2,size:13}));
[408,436,464,492].forEach((y,k)=>T(36,y,modelRows[k],{align:'right',size:13.5}));
T(12,453,'Mean models',{rot:Math.PI/2,align:'center',size:13.5});
matrix(126.7,396.7,27.05,27.05,27.05,27.05,cSignif,pVal,{labels:cCounts,stroke:'#222'});
T(319,402,'adjusted',{size:13});T(319,419,'{i|p}-value',{size:13});
[439,455,471,487,502].forEach((y,k)=>{R(317.3,y-4,7.7,8,pVal[k],'#555');T(332,y,pLegendC[k],{size:12.5});});

// ---------- D ----------
{const xx=axisV(-4.41,4.357,[-4,-2,0,2,4],{size:10.2}),yy=axisV(-4.46,4.33,[-4,-2,0,2,4],{size:10.2});
 const i=addGrid(443.7,265,664.7,486.7,xx,yy,true),S=4,TS=5;
 scatter(i,dNone,'#b3cfe8',6);
 scatter(i,dH,classCol.H,S);scatter(i,dF,classCol.F,S);scatter(i,dB,classCol.B,S);scatter(i,dD,classCol.D,S);
 scatter(i,dE,classCol.E,S);scatter(i,dC,classCol.C,S);scatter(i,dA,'#4f9a3f',S);scatter(i,dG,'#c8102e',S);
 scatter(i,dGTri,'#c8102e',TS,'triangle');scatter(i,dDTri,classCol.D,TS+1,'triangle');scatter(i,dCTri,classCol.C,TS,'triangle');
 scatter(i,dETri,classCol.E,TS,'triangle');scatter(i,dFTri,classCol.F,TS,'triangle');
 const R2='#c8102e',G2='#4f9a3f',P2='#e6a0a8',B2='#4078b8',O2='#e07f17';
 const zx=v=>400+v/3,zy=v=>240+v/3;
 [['Ciart',251,124,R2],['Dbp',342,159,R2],['Per3',430,232,R2],['Per1',544,160,G2],['Per2',537,268,G2],['Rorc',692,266,P2],['Nr1d2',241,289,R2],['Nr1d1',195,349,R2],['Tef',308,382,R2],['Hlf',280,430,R2],['Clock',618,441,B2],['Npas2',648,672,O2]].forEach(a=>T(zx(a[1]),zy(a[2]),a[0],{align:'center',size:13.5,color:a[3]}));
 [[200,165,248,143,R2],[312,232,342,180,R2],[358,285,385,235,R2],[465,250,505,155,G2],[468,320,495,255,G2],[565,305,645,258,P2],[280,330,262,310,R2],[205,327,240,320,R2],[338,388,362,378,R2],[305,430,430,385,R2],[530,420,565,440,B2],[715,675,765,707,O2]].forEach(a=>L([[zx(a[0]),zy(a[1])],[zx(a[2]),zy(a[3])]],a[4],1));
 T(557.7,514,'Log2FC({i|Bmal1} KO {i|vs.} wild-type)',{align:'center',size:10.7});
 T(419,370,'Log2FC ({i|Cry1/2} KO {i|vs.} wild-type)',{rot:Math.PI/2,align:'center',size:10.7});
 T(692,291.7,'{i|Bmal1}',{align:'center',size:12});T(692,305.7,'KO',{align:'center',size:12});
 T(732.3,291.7,'{i|Cry1/2}',{align:'center',size:12});T(732.3,305.7,'KO',{align:'center',size:12});
 L([[675.5,316.7],[709.5,316.7]],'#444',.9);L([[714,316.7],[749,316.7]],'#444',.9);
 const ys=[333.3,352.3,367.7,385.7,403,421.7,439,456];
 const sym=(x,y,s)=>{if(s==='o')C(x,y,3,'#fff','#222');else T(x,y,s,{align:'center',size:s==='+'?15:14,bold:true});};
 ys.forEach((y,k)=>{sym(694,y,classBmal[k]);sym(733,y,classCry[k]);});
 [325,342,359.3,376.3,393.3,410.7,427.7,445].forEach((y,k)=>{R(753.3,y,16,16,classCol[classLetters[k]],'#888');T(761.3,y+8.5,classLetters[k],{align:'center',size:14,color:'#222'});});
 T(779,397,'Class',{rot:Math.PI/2,align:'center',size:14});}

// ---------- E ----------
{const p=19.22,xs=[30,95.7,161.7],blocks=[[560.7,[eEbox1,eEbox2,eEbox3],eTargets],[701.3,[eRore1,eRore2,eRore3],eRore],[748.3,[eDbox1,eDbox2,eDbox3],eDbox]];
 blocks.forEach(b=>{b[1].forEach((m,k)=>matrix(xs[k],b[0],p,p,p,p,m,pVal,{stroke:'#2b2b33'}));
  b[2].forEach((n,r)=>T(204,b[0]+p*(r+.5)+.3,n,{size:13}));});
 [['G','F','A'],['E','B','C'],['D','H']].forEach((hs,k)=>hs.forEach((h,j)=>{R(xs[k]+j*p,532.3,p,19.4,classCol[h],null);T(xs[k]+j*p+p/2,542.3,h,{align:'center',size:14,color:'#222'});}));
 L([[253.5,562],[253.5,690]],'#999',1.2);L([[253.5,704],[253.5,740]],'#999',1.2);L([[253.5,750],[253.5,786]],'#999',1.2);
 T(256,627,'E-Box',{size:13});T(256,720,'RORE',{size:13});T(256,767,'D-Box',{size:13});
 L([[19,563],[19,787]],'#aaa',1.5);
 T(6.7,676.7,'ChIP-seq targets',{rot:Math.PI/2,align:'center',size:13.5});
 const lg=[31.7,47.7,63.3,79.3,95],ct=['<10{sup|−9}','<10{sup|−5}','<10{sup|−3}','<.01','>.01'];
 lg.forEach((x,k)=>{R(x,795.7,11.3,10.5,pVal[4-k],'#666');T(x+5.6,810,ct[k],{rot:-Math.PI/2,size:10});});
 T(115,801,'{i|p}-value',{size:13});}

// ---------- F ----------
{const i=addGrid(343.3,570,434,661.7,hidden(-1,1),hidden(-1,1));
 const tri=(pts,c)=>series.push({type:'custom',xAxisIndex:i,yAxisIndex:i,silent:true,animation:false,data:[[0,0]],encode:{x:0,y:1},clip:true,
  renderItem(p,api){return {type:'polygon',shape:{points:pts.map(q=>api.coord(q))},style:{fill:c,stroke:'#2d4a3d',lineWidth:.4}};}});
 tri(fBlueTri,'#41688f');tri(fGreenTri,'#68ad70');
 T(348,581,'ΔΔ<0',{bold:true,size:11.5});T(433,650,'ΔΔ>0',{bold:true,size:11.5,align:'right'});
 [['+',590],['0',616],['-',640]].forEach(a=>T(336,a[1],a[0],{size:10.5,align:'center'}));
 [['-',360],['0',389],['+',417]].forEach(a=>T(a[1],671,a[0],{size:10.5,align:'center'}));
 T(388,681,'Log2FC',{align:'center',size:10.3});T(388,694,'({i|Bmal1} KO vs. WT)',{align:'center',size:10.3});
 T(305,621,'Log2FC',{rot:Math.PI/2,align:'center',size:10.3});T(319,621,'({i|Cry1/2} KO vs. wild-type)',{rot:Math.PI/2,align:'center',size:10.3});}

// ---------- G ----------
{const i=addGrid(494.3,570.7,736.7,812.7,axisV(-.87,24.9,gTickValues,{size:10.3,margin:6}),axisV(-5.5,5.45,[-5,-2.5,0,2.5,5],{size:10.3,fmt:v=>v.toFixed(1).replace('-','−')}),true);
 const idx=series.length;
 scatter(i,gUpBand.concat(gLowBand,gUpOut,gLowOut),'#444',5.6,'circle',{itemStyle:{opacity:.88}});
 scatter(i,gTriangles,'#444',7,'triangle',{itemStyle:{opacity:.95}});
 window.__vm={type:'continuous',show:true,min:0,max:4.1,seriesIndex:[idx,idx+1],dimension:2,inRange:{color:viridis},left:742.3,top:727,itemWidth:18,itemHeight:86,calculable:false,hoverLink:false,text:null,padding:0};
 const zx=v=>440+v/3,zy=v=>530+v/3;
 [['Npas2',295,147],['Loxl4',218,177],['1700010I14Rik',367,195],['Atp6v0d2',558,218],['Cdkn1a',738,178],['Ndrg1',222,242],['Defb1',377,294],['Rnf144a',242,324],['Ces1d',782,625],['S1pr5',757,655],['Usp2',530,660],['Thrsp',642,677],['Trim30d',293,679],['Slc13a2',817,705],['Rgs16',485,692],['Per3',528,700],['Gpc1',590,692],['Dsg1c',362,726],['Caln1',712,726],['Nr1d2',495,740],['Cys1',582,740],['Ppp1r1b',815,753],['Nr1d1',333,775],['Tnnc1',617,776],['Col27a1',772,792],['Blnk',440,792],['Dbp',530,786],['Bhlhe41',317,826],['Ciart',573,825],['Nat8f6',682,825],['Nat8f5',828,825]].forEach(a=>T(zx(a[1]),zy(a[2]),a[0],{align:'center',size:11.5}));
 [[440,232,483,220],[385,768,415,750],[418,720,440,695],[455,770,480,740],[390,825,460,817],[690,685,722,625],[705,688,735,660],[688,755,720,785],[520,690,548,680]].forEach(a=>L([[zx(a[0]),zy(a[1])],[zx(a[2]),zy(a[3])]],'#333',.8));
 T(460,693,'ΔΔ Bmal1-Cry1/2',{rot:Math.PI/2,align:'center',size:10.5});
 T(614,839,'Averaged wild-type phase',{align:'center',size:10.7});T(614,852,'(Zeitgeber Time)',{align:'center',size:10.7});
 [4,3,2,1,0].forEach((v,k)=>{const y=[727.5,748,769,789.5,810][k];T(765,y,v,{size:10.5});
  L([[742.3,y],[746,y]],'#fff',.8);L([[756.6,y],[760.3,y]],'#fff',.8);});
 T(779,766,'Wild-type amplitude',{rot:Math.PI/2,align:'center',size:10});}

// ---------- H ----------
{const red='#c02a2e',pink='#eca3ab',gr='#4a9a3c',ko='#d9d795',t=[0,6,12,18,24];
 const panel=(l,r,top,bot,xmin,xmax,ymin,ymax,yt,fmt,fit,a,b,bFit,ca,cb,lb)=>{
  const i=addGrid(l,top,r,bot,axisV(xmin,xmax,t,{size:10.7,margin:4}),axisV(ymin,ymax,yt,{size:10.7,fmt,margin:4}),true);
  line(i,bFit,lb||cb,1.1,'solid',true);line(i,fit,ca,1.1,'solid',true);
  errbars(i,b,cb);scatter(i,b.map(d=>[d[0],d[1]]),cb,5.3);errbars(i,a,ca);scatter(i,a.map(d=>[d[0],d[1]]),ca,5.3);};
 const f0=v=>String(v),f1=v=>v.toFixed(1);
 panel(66.7,164,858.3,956,-1.27,25.3,3.55,12.3,[4,6,8,10,12],f0,hFitA,hUsp2Wt,hUsp2Bko,hUsp2Flat,red,pink);
 panel(219.3,316.7,858.3,956,-1.37,25.37,3.55,12.3,[4,6,8,10,12],f0,hFitA,hUsp2Wt2,hUsp2Cko,hUsp2CFlat,gr,ko);
 panel(66.7,164,998.3,1097.3,-1.27,25.3,-.7,12.5,[0,2.5,5,7.5,10,12.5],f1,hFitL,hLoxWt,hLoxBko,hFitLB,red,pink);
 panel(219.3,317.7,999.3,1097.3,-1.37,25.6,-.7,12.5,[0,2.5,5,7.5,10,12.5],f1,hFitL,hLoxWt2,hLoxCko,hLoxFlat,gr,ko);
 T(67,850,'Usp2',{bold:true,italic:true,size:10.5});T(129,849,'ΔΔ<0',{size:13});
 T(67,991,'Loxl4',{bold:true,italic:true,size:10.5});T(129,990,'ΔΔ>0',{size:13});
 [[120,974],[272.5,974],[112.5,1120],[265,1120]].forEach(a=>T(a[0],a[1],'Zeitgeber Time (h)',{align:'center',size:11}));
 [[30,903],[185,903],[31,1047],[186,1047]].forEach(a=>T(a[0],a[1],'Log Norm. read counts',{rot:Math.PI/2,align:'center',size:11}));
 [[1045,'#b92b2f','Wild-type'],[1062.7,'#e8a0a8','{i|Bmal1} KO'],[1080,'#3f8f3f','Wild-type'],[1097.7,'#bdd25f','{i|Cry1/2} KO']].forEach(a=>{C(336,a[0],3.7,a[1]);T(342,a[0],a[2],{size:11.5});});}

// ---------- I ----------
{const it=[2,6,10,14,18,22];
 const i=addGrid(509.3,959.3,593.3,1043.3,axisV(-2.18,26.14,it,{size:10.3,margin:4}),axisV(-3.6,66.8,[0,20,40,60],{size:10.5,margin:4}),true);
 hist(i,iNegBins,'#44678f');
 const j=addGrid(607.3,959.3,701,1043.3,axisV(-4.3,26.1,it,{size:10.3,margin:4}),axisV(-2.8,55.2,[0,20,40],{size:10.5,margin:4}),true);
 hist(j,iPosBins,'#6aaf6e');
 T(485,1001,'Number of genes',{rot:Math.PI/2,align:'center',size:11.5});
 T(603,1066.7,'Averaged wild-type phase',{align:'center',size:10.7});T(604,1080,'(Zeitgeber Time)',{align:'center',size:10.7});
 T(495,891,'ΔΔ<0',{bold:true,size:12.5});T(603,891,'ΔΔ>0',{bold:true,size:12.5});
 const negX=[503.3,512.3,521,547,555.7,564.3,571.7,580.3,589,597.7],negT=[515,516,531,546,555.5,557,575,583,583.5,586.5],negY=[917.3,911.7,911.7,926,926,926,919,919,919,919];
 const posX=[636,644.3,690.7,699.3],posT=[650,651,682,684],posY=[910,910,916.7,916.7];
 const redT='#d0103a';
 const put=(names,dirs,xs,ts,ys)=>names.forEach((n,k)=>{T(xs[k],947.5,n,{rot:Math.PI/2,size:9,color:'#333'});
  Tri(xs[k],ys[k],dirs[k]===1,redT);L([[xs[k]+1,950],[ts[k],954],[ts[k],959]],'#555',.7);});
 put(iNegGenes,iNegDir,negX,negT,negY);put(iPosGenes,iPosDir,posX,posT,posY);}

// ---------- RENDER ----------
const chart=echarts.init(document.getElementById('c'),null,{renderer:'canvas',width:789,height:1127});
chart.setOption({animation:false,backgroundColor:'#fff',textStyle:{fontFamily:F},grid:grids,xAxis:xA,yAxis:yA,series,visualMap:[window.__vm],graphic:{elements:g}});
</script></body></html>
